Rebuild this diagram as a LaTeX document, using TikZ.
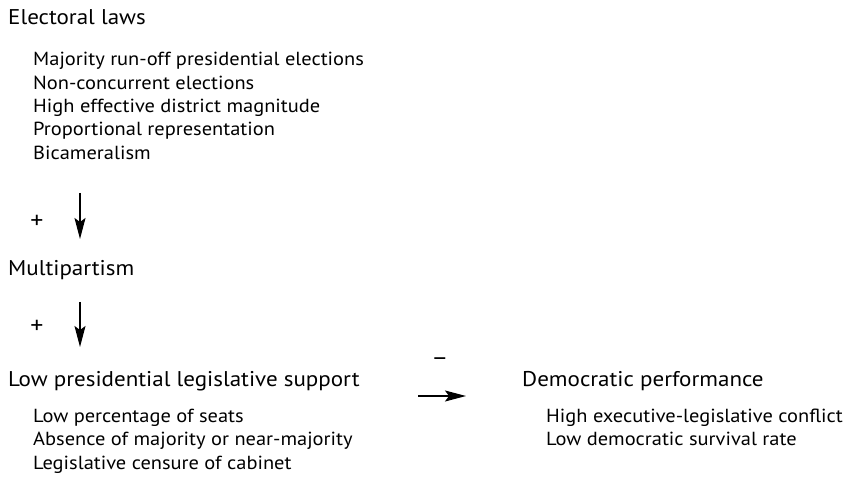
\documentclass[tikz,border=0pt]{standalone}
\usepackage{fontspec}
\setmainfont[FakeStretch=1.08]{PT Sans}
\usetikzlibrary{arrows.meta}
\begin{document}
\begin{tikzpicture}[x=1bp,y=-1bp,
  head/.style={anchor=base west,inner sep=0,font=\fontsize{21.4}{25}\selectfont},
  item/.style={anchor=base west,inner sep=0,font=\fontsize{19}{23}\selectfont},
  sign/.style={anchor=center,inner sep=0,font=\fontsize{24}{28}\selectfont},
  arr/.style={line width=1.3bp,-{Stealth[length=21bp,width=11bp,inset=4bp]}}]
\useasboundingbox (0,0) rectangle (845,484);
% Electoral laws
\node[head] (el) at (8,25) {Electoral laws};
\node[item] (el1) at (33,66) {Majority run-off presidential elections};
\node[item] (el2) at (33,89.3) {Non-concurrent elections};
\node[item] (el3) at (33,112.6) {High effective district magnitude};
\node[item] (el4) at (33,136) {Proportional representation};
\node[item] (el5) at (33,159.3) {Bicameralism};
% arrow 1
\coordinate (a1s) at (80,193);
\coordinate (a1e) at (80,239);
\draw[arr] (a1s) -- (a1e);
\node[sign] (p1) at (37,222) {+};
% Multipartism
\node[head] (mp) at (8,276) {Multipartism};
% arrow 2
\coordinate (a2s) at (80,302);
\coordinate (a2e) at (80,347);
\draw[arr] (a2s) -- (a2e);
\node[sign] (p2) at (37,327) {+};
% Low presidential legislative support
\node[head] (lp) at (8,386) {Low presidential legislative support};
\node[item] (lp1) at (33,422) {Low percentage of seats};
\node[item] (lp2) at (33,445.5) {Absence of majority or near-majority};
\node[item] (lp3) at (33,469) {Legislative censure of cabinet};
% arrow 3
\coordinate (a3s) at (418,396);
\coordinate (a3e) at (466,396);
\draw[arr] (a3s) -- (a3e);
\node[sign] (m1) at (440,362) {–};
% Democratic performance
\node[head] (dp) at (522,386) {Democratic performance};
\node[item] (dp1) at (546,422) {High executive-legislative conflict};
\node[item] (dp2) at (546,445.5) {Low democratic survival rate};
\end{tikzpicture}
\end{document}
